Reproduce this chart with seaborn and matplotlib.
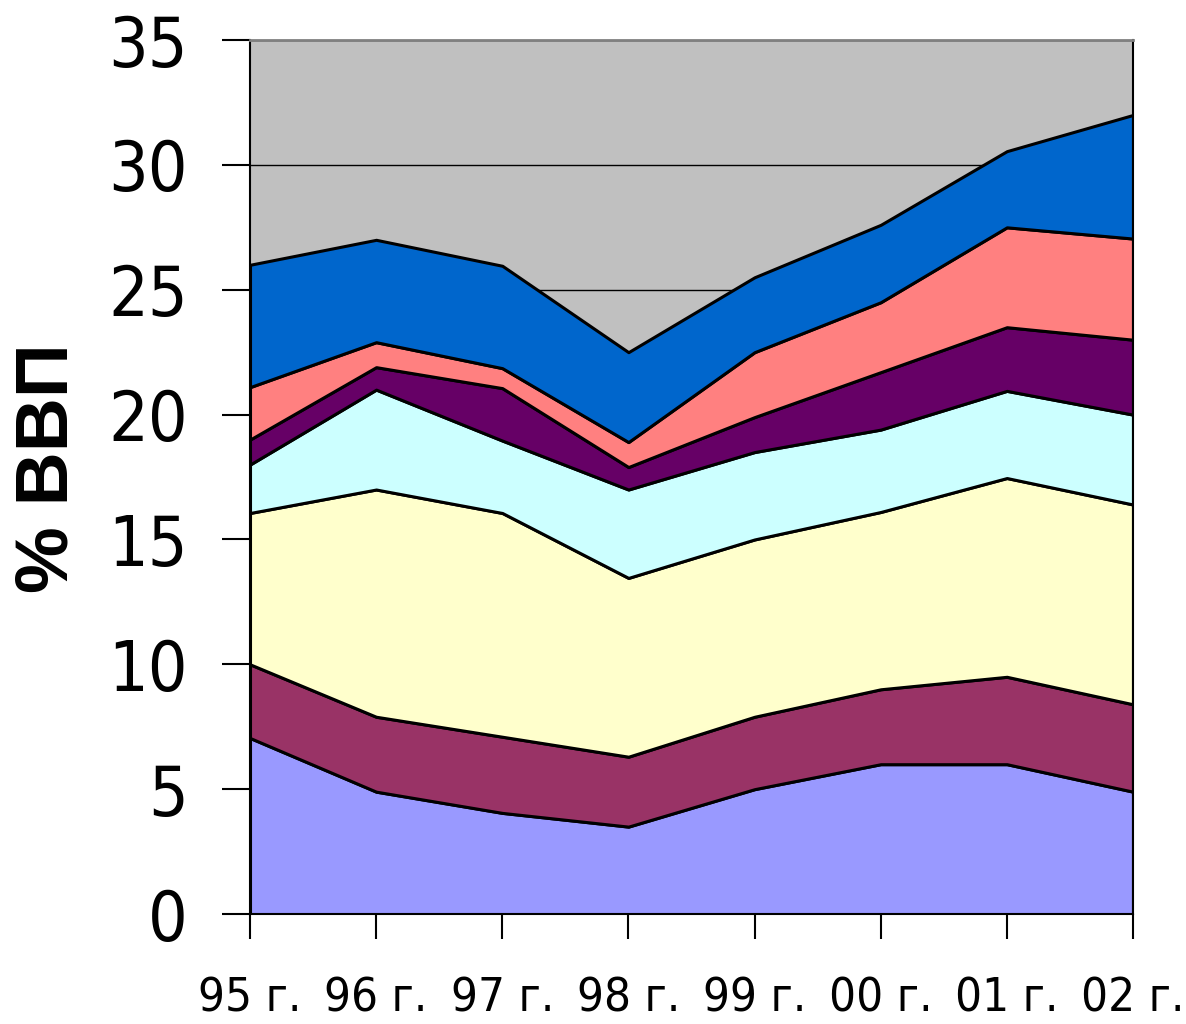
import matplotlib
matplotlib.use("Agg")
import matplotlib.pyplot as plt
from matplotlib import font_manager
import seaborn as sns

# Years and layer values (% of GDP), bottom layer first
years = ["95 г.", "96 г.", "97 г.", "98 г.", "99 г.", "00 г.", "01 г.", "02 г."]
layer1 = [7.05, 4.9, 4.05, 3.5, 5.0, 6.0, 6.0, 4.9]
layer2 = [2.95, 3.0, 3.05, 2.8, 2.9, 3.0, 3.5, 3.5]
layer3 = [6.06, 9.1, 8.96, 7.16, 7.1, 7.1, 7.96, 8.0]
layer4 = [1.94, 4.0, 2.9, 3.54, 3.5, 3.3, 3.49, 3.6]
layer5 = [1.0, 0.9, 2.1, 0.9, 1.4, 2.3, 2.55, 3.0]
layer6 = [2.1, 1.0, 0.8, 1.0, 2.6, 2.8, 4.0, 4.05]
layer7 = [4.9, 4.1, 4.1, 3.6, 3.0, 3.1, 3.05, 4.95]
colors = ["#9999FF", "#993366", "#FFFFCC", "#CCFFFF", "#660066", "#FF8080", "#0066CC"]
yticks = [0, 5, 10, 15, 20, 25, 30, 35]

sns.set_style("white")
plt.rcParams["font.family"] = ["Liberation Sans", "DejaVu Sans"]

# a regular (not bold) condensed font for the tick labels
tick_font = None
for f in font_manager.fontManager.ttflist:
    condensed = "Narrow" in f.name or "Condensed" in f.name or f.stretch == "condensed"
    regular = f.weight in (400, "normal", "regular", "book") and f.style == "normal"
    if condensed and regular:
        tick_font = font_manager.FontProperties(fname=f.fname)
        break
if tick_font is None:
    tick_font = font_manager.FontProperties(family="DejaVu Sans")

fig = plt.figure(figsize=(11.86, 10.24), dpi=100)
ax = fig.add_axes([0.2108, 0.1074, 0.7445, 0.8535])
ax.set_facecolor("#C0C0C0")

x = list(range(len(years)))
ax.stackplot(x, layer1, layer2, layer3, layer4, layer5, layer6, layer7,
             colors=colors, edgecolor="black", linewidth=2.2, zorder=2)

ax.set_xlim(0, len(years) - 1)
ax.set_ylim(0, 35)
ax.set_yticks(yticks)
ax.set_xticks(x)
ax.set_xticklabels(years)
ax.yaxis.grid(True, color="black", linewidth=1, zorder=1)
ax.set_axisbelow(True)

for side in ["left", "bottom", "right"]:
    ax.spines[side].set_color("black")
    ax.spines[side].set_linewidth(1.5)
ax.spines["top"].set_color("#808080")
ax.spines["top"].set_linewidth(2)

ax.tick_params(axis="y", direction="out", length=20, width=1.5,
               pad=25, left=True, labelcolor="black", color="black")
ax.tick_params(axis="x", direction="out", length=18, width=1.5,
               pad=27, bottom=True, labelcolor="black", color="black")
for lab in ax.get_yticklabels():
    lab.set_fontproperties(tick_font)
    lab.set_fontsize(50)
for lab in ax.get_xticklabels():
    lab.set_fontproperties(tick_font)
    lab.set_fontsize(34)

ax.set_ylabel("% ВВП", fontsize=54, fontweight="bold", color="black",
              family=["Liberation Sans", "DejaVu Sans"])
ax.yaxis.set_label_coords(-0.19, 0.51)

fig.savefig("out.png", dpi=100)
